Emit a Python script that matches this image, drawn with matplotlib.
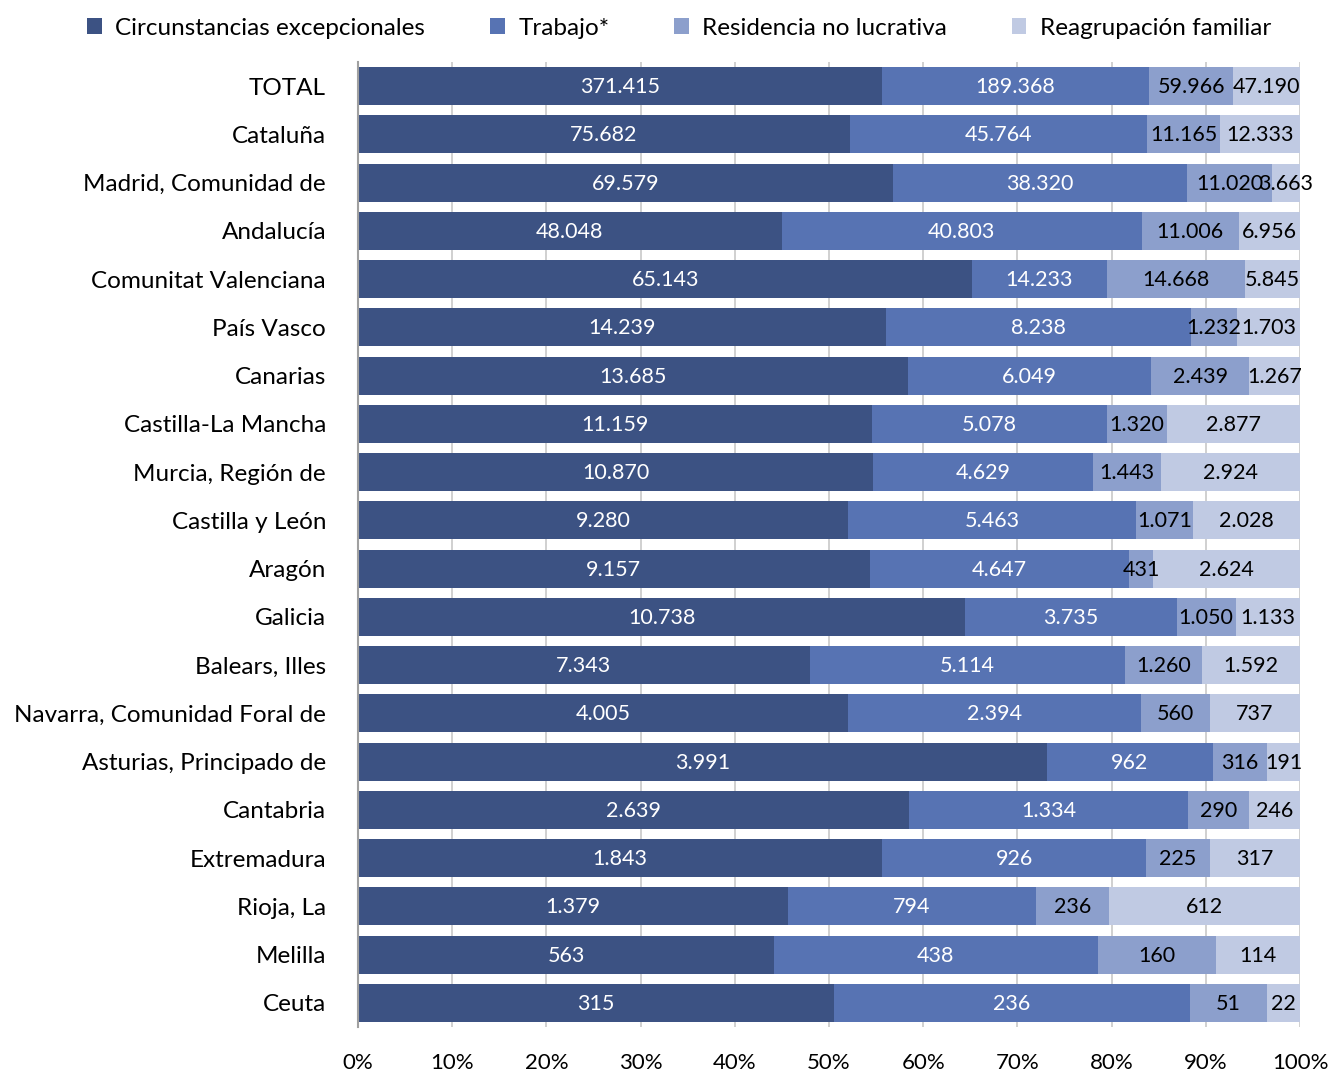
import matplotlib.pyplot as plt
import numpy as np

plt.rcParams['font.family'] = ['Lato', 'DejaVu Sans']

regions = ['TOTAL', 'Cataluña', 'Madrid, Comunidad de', 'Andalucía', 'Comunitat Valenciana',
           'País Vasco', 'Canarias', 'Castilla-La Mancha', 'Murcia, Región de', 'Castilla y León',
           'Aragón', 'Galicia', 'Balears, Illes', 'Navarra, Comunidad Foral de',
           'Asturias, Principado de', 'Cantabria', 'Extremadura', 'Rioja, La', 'Melilla', 'Ceuta']
circunstancias = [371415, 75682, 69579, 48048, 65143, 14239, 13685, 11159, 10870, 9280,
                  9157, 10738, 7343, 4005, 3991, 2639, 1843, 1379, 563, 315]
trabajo = [189368, 45764, 38320, 40803, 14233, 8238, 6049, 5078, 4629, 5463,
           4647, 3735, 5114, 2394, 962, 1334, 926, 794, 438, 236]
residencia = [59966, 11165, 11020, 11006, 14668, 1232, 2439, 1320, 1443, 1071,
              431, 1050, 1260, 560, 316, 290, 225, 236, 160, 51]
reagrupacion = [47190, 12333, 3663, 6956, 5845, 1703, 1267, 2877, 2924, 2028,
                2624, 1133, 1592, 737, 191, 246, 317, 612, 114, 22]

series = [('Circunstancias excepcionales', circunstancias, '#3C5283', 'white'),
          ('Trabajo*', trabajo, '#5773B3', 'white'),
          ('Residencia no lucrativa', residencia, '#8C9FCC', 'black'),
          ('Reagrupación familiar', reagrupacion, '#C0CAE3', 'black')]

def fmt(v):
    return f'{v:,}'.replace(',', '.')

fig = plt.figure(figsize=(13.39, 10.72), dpi=100)
ax = fig.add_axes([358 / 1339, 45 / 1072, 942 / 1339, 965 / 1072])

data = np.array([s[1] for s in series], dtype=float)
totals = data.sum(axis=0)
y = np.arange(len(regions))
left = np.zeros(len(regions))
for (name, vals, color, tcolor), row in zip(series, data):
    pct = row / totals
    ax.barh(y, pct, left=left, height=0.79, color=color, label=name, zorder=2)
    for yi, l, w, v in zip(y, left, pct, vals):
        ax.text(l + w / 2, yi + 0.02, fmt(v), ha='center', va='center', color=tcolor,
                fontsize=15.5, zorder=3)
    left += pct

ax.set_xlim(0, 1)
ax.set_ylim(len(regions) - 0.5, -0.5)
ax.set_yticks(y)
ax.set_yticklabels(regions, fontsize=17.5)
ax.set_xticks(np.linspace(0, 1, 11))
ax.set_xticklabels([f'{int(t)}%' for t in np.linspace(0, 100, 11)], fontsize=16)
ax.tick_params(axis='y', length=0, pad=23)
ax.tick_params(axis='x', length=0, pad=19)
ax.grid(axis='x', color='#C8C8C8', linewidth=1.2, zorder=0)
for s in ['top', 'right', 'bottom']:
    ax.spines[s].set_visible(False)
ax.spines['left'].set_color('#A0A0A0')
ax.spines['left'].set_linewidth(1.5)

fig.legend(loc='upper left', bbox_to_anchor=(0.049, 1.004), ncol=4, frameon=False,
           fontsize=17.5, handlelength=0.6, handleheight=0.6, handletextpad=0.55,
           columnspacing=2.67)

fig.savefig('out.png', dpi=100)
